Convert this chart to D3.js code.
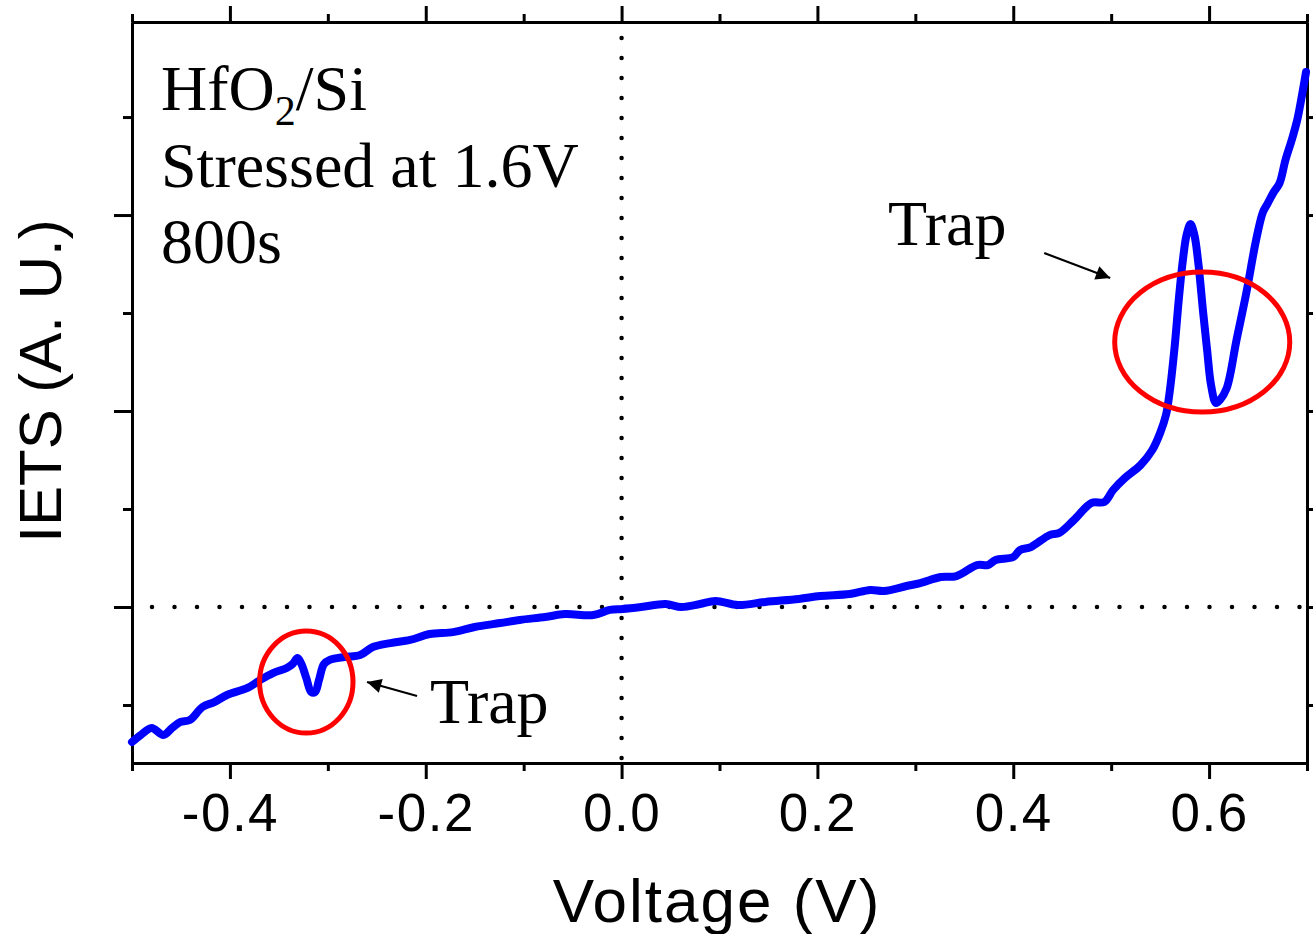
<!DOCTYPE html>
<html>
<head>
<meta charset="utf-8">
<script src="https://cdn.jsdelivr.net/npm/d3@7"></script>
<style>
  body { margin: 0; background: #fff; }
  svg { display: block; }
</style>
</head>
<body>
<div id="chart"></div>
<script>
// IETS trace (voltage in V, IETS in arbitrary units)
var voltage = [
  -0.500, -0.491, -0.480, -0.468, -0.459, -0.451, -0.441, -0.428, -0.416, -0.403,
  -0.382, -0.369, -0.356, -0.342, -0.336, -0.331, -0.327, -0.322, -0.317, -0.313,
  -0.309, -0.304, -0.298, -0.283, -0.267, -0.254, -0.236, -0.216, -0.196, -0.172,
  -0.150, -0.124, -0.104, -0.078, -0.058, -0.029, -0.012, 0.001, 0.020, 0.045,
  0.061, 0.080, 0.096, 0.119, 0.147, 0.181, 0.203, 0.233, 0.254, 0.268,
  0.291, 0.305, 0.326, 0.342, 0.363, 0.374, 0.382, 0.400, 0.407, 0.418,
  0.437, 0.447, 0.462, 0.480, 0.493, 0.502, 0.514, 0.530, 0.542, 0.550,
  0.556, 0.560, 0.565, 0.569, 0.573, 0.577, 0.581, 0.585, 0.589, 0.594,
  0.598, 0.602, 0.607, 0.611, 0.618, 0.628, 0.638, 0.648, 0.655, 0.660,
  0.666, 0.672, 0.678, 0.685, 0.690, 0.694, 0.699
];
var iets = [
  -0.689, -0.653, -0.617, -0.653, -0.617, -0.587, -0.577, -0.510, -0.485, -0.449,
  -0.413, -0.372, -0.337, -0.311, -0.291, -0.260, -0.291, -0.362, -0.434, -0.434,
  -0.372, -0.291, -0.270, -0.255, -0.245, -0.204, -0.184, -0.168, -0.138, -0.128,
  -0.102, -0.082, -0.066, -0.051, -0.036, -0.041, -0.015, -0.010, 0.000, 0.015,
  0.000, 0.015, 0.031, 0.010, 0.026, 0.041, 0.056, 0.066, 0.087, 0.082,
  0.107, 0.122, 0.153, 0.158, 0.214, 0.214, 0.240, 0.255, 0.291, 0.306,
  0.367, 0.378, 0.444, 0.531, 0.536, 0.597, 0.658, 0.724, 0.801, 0.888,
  0.980, 1.107, 1.337, 1.566, 1.760, 1.898, 1.954, 1.898, 1.755, 1.500,
  1.311, 1.133, 1.041, 1.056, 1.117, 1.362, 1.602, 1.872, 2.015, 2.061,
  2.117, 2.163, 2.281, 2.393, 2.485, 2.587, 2.730
];

// axis ticks
var xMajor = [-0.4, -0.2, 0.0, 0.2, 0.4, 0.6];
var xMinor = [-0.5, -0.3, -0.1, 0.1, 0.3, 0.5, 0.7];
var yMajor = [0, 1, 2];
var yMinor = [-0.5, 0.5, 1.5, 2.5];

// annotations: trap ellipses [cx, cy, rx, ry] in data units
var trapEllipses = [[-0.322, -0.383, 0.0477, 0.260], [0.593, 1.352, 0.0894, 0.357]];
// trap labels [x, y] and arrows [x1, y1, x2, y2]
var trapLabels = [[-0.1956, -0.592], [0.272, 1.847]];
var trapArrows = [[-0.2089, -0.454, -0.2600, -0.383], [0.4316, 1.806, 0.4990, 1.679]];
var infoLines = ['Stressed at 1.6V', '800s'];

var W = 1313, H = 934;
var margin = {left: 132, right: 6, top: 22, bottom: 171};
var width = W - margin.left - margin.right;
var height = H - margin.top - margin.bottom;

var x = d3.scaleLinear().domain([-0.5, 0.7]).range([0, width]);
var y = d3.scaleLinear().domain([-0.796, 2.985]).range([height, 0]);

var svg = d3.select('#chart').append('svg')
    .attr('width', W)
    .attr('height', H);

var g = svg.append('g')
    .attr('transform', 'translate(' + margin.left + ',' + margin.top + ')');

var sans = 'Liberation Sans, Arial, sans-serif';
var serif = 'Liberation Serif, Times New Roman, serif';
var noLabel = function() { return ''; };

// dotted zero lines
g.append('line')
    .attr('x1', x(0)).attr('x2', x(0))
    .attr('y1', 16).attr('y2', height)
    .attr('stroke', '#000').attr('stroke-width', 4.5)
    .attr('stroke-linecap', 'round')
    .attr('stroke-dasharray', '0 20');
g.append('line')
    .attr('x1', 20).attr('x2', width)
    .attr('y1', y(0)).attr('y2', y(0))
    .attr('stroke', '#000').attr('stroke-width', 4.5)
    .attr('stroke-linecap', 'round')
    .attr('stroke-dasharray', '0 22.5');

// axes
function styleAxis(sel) {
    sel.selectAll('path').attr('stroke', '#000').attr('stroke-width', 3);
    sel.selectAll('line').attr('stroke', '#000').attr('stroke-width', 3);
}

var axBottom = g.append('g').attr('transform', 'translate(0,' + height + ')');
axBottom.append('g').call(d3.axisBottom(x).tickValues(xMinor).tickSize(8).tickSizeOuter(0).tickFormat(noLabel));
var bottomMajor = axBottom.append('g').call(d3.axisBottom(x).tickValues(xMajor).tickSize(16).tickSizeOuter(0)
    .tickPadding(14).tickFormat(function(d) { return d3.format('.1f')(d).replace('\u2212', '-'); }));
styleAxis(axBottom);
bottomMajor.selectAll('text')
    .attr('font-family', sans).attr('font-size', 53)
    .attr('letter-spacing', 1.5).attr('fill', '#000');

var axTop = g.append('g');
axTop.append('g').call(d3.axisTop(x).tickValues(xMinor).tickSize(8).tickSizeOuter(0).tickFormat(noLabel));
axTop.append('g').call(d3.axisTop(x).tickValues(xMajor).tickSize(16).tickSizeOuter(0).tickFormat(noLabel));
styleAxis(axTop);

var axLeft = g.append('g');
axLeft.append('g').call(d3.axisLeft(y).tickValues(yMinor).tickSize(9).tickSizeOuter(0).tickFormat(noLabel));
axLeft.append('g').call(d3.axisLeft(y).tickValues(yMajor).tickSize(18).tickSizeOuter(0).tickFormat(noLabel));
styleAxis(axLeft);

var axRight = g.append('g').attr('transform', 'translate(' + width + ',0)');
axRight.append('g').call(d3.axisRight(y).tickValues(yMinor).tickSize(9).tickSizeOuter(0).tickFormat(noLabel));
axRight.append('g').call(d3.axisRight(y).tickValues(yMajor).tickSize(18).tickSizeOuter(0).tickFormat(noLabel));
styleAxis(axRight);

// axis titles
g.append('text')
    .attr('x', 585).attr('y', 922 - margin.top)
    .attr('text-anchor', 'middle')
    .attr('font-family', sans).attr('font-size', 62)
    .attr('letter-spacing', 2)
    .text('Voltage (V)');

g.append('text')
    .attr('transform', 'translate(' + (61 - margin.left) + ',' + (381 - margin.top) + ') rotate(-90)')
    .attr('text-anchor', 'middle')
    .attr('font-family', sans).attr('font-size', 60)
    .text('IETS (A. U.)');

// IETS trace
var data = voltage.map(function(v, i) { return {v: v, s: iets[i]}; });
var line = d3.line()
    .x(function(d) { return x(d.v); })
    .y(function(d) { return y(d.s); })
    .curve(d3.curveCatmullRom.alpha(0.5));

g.append('path')
    .datum(data)
    .attr('fill', 'none')
    .attr('stroke', '#0000ff')
    .attr('stroke-width', 8)
    .attr('stroke-linejoin', 'round')
    .attr('stroke-linecap', 'round')
    .attr('d', line);

// trap ellipses
g.selectAll('ellipse.trap')
    .data(trapEllipses)
    .enter().append('ellipse')
    .attr('class', 'trap')
    .attr('cx', function(d) { return x(d[0]); })
    .attr('cy', function(d) { return y(d[1]); })
    .attr('rx', function(d) { return x(d[0] + d[2]) - x(d[0]); })
    .attr('ry', function(d) { return y(d[1] - d[3]) - y(d[1]); })
    .attr('fill', 'none')
    .attr('stroke', '#ff0000')
    .attr('stroke-width', 5);

// arrows
var defs = svg.append('defs');
defs.append('marker')
    .attr('id', 'head')
    .attr('viewBox', '0 0 10 10')
    .attr('refX', 10).attr('refY', 5)
    .attr('markerWidth', 9).attr('markerHeight', 6.5)
    .attr('markerUnits', 'strokeWidth')
    .attr('orient', 'auto')
    .append('path')
    .attr('d', 'M0,0 L10,5 L0,10 Z')
    .attr('fill', '#000');

g.selectAll('line.arrow')
    .data(trapArrows)
    .enter().append('line')
    .attr('class', 'arrow')
    .attr('x1', function(d) { return x(d[0]); })
    .attr('y1', function(d) { return y(d[1]); })
    .attr('x2', function(d) { return x(d[2]); })
    .attr('y2', function(d) { return y(d[3]); })
    .attr('stroke', '#000')
    .attr('stroke-width', 2.2)
    .attr('marker-end', 'url(#head)');

g.selectAll('text.trap')
    .data(trapLabels)
    .enter().append('text')
    .attr('class', 'trap')
    .attr('x', function(d) { return x(d[0]); })
    .attr('y', function(d) { return y(d[1]); })
    .attr('font-family', serif).attr('font-size', 64)
    .text('Trap');

// sample info
var info = g.append('g').attr('transform', 'translate(' + (161 - margin.left) + ',0)');
var t0 = info.append('text')
    .attr('y', 110 - margin.top)
    .attr('font-family', serif).attr('font-size', 64);
t0.append('tspan').text('HfO');
t0.append('tspan').attr('font-size', 42).attr('dy', 15).text('2');
t0.append('tspan').attr('dy', -15).text('/Si');

info.selectAll('text.info')
    .data(infoLines)
    .enter().append('text')
    .attr('class', 'info')
    .attr('y', function(d, i) { return (187 + i * 76) - margin.top; })
    .attr('font-family', serif).attr('font-size', 64)
    .text(function(d) { return d; });
</script>
</body>
</html>
